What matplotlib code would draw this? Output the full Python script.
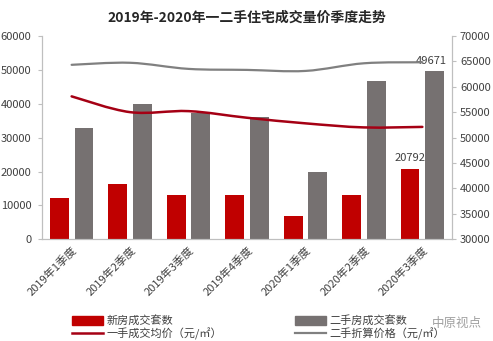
import matplotlib.pyplot as plt
import numpy as np
from matplotlib.patches import Patch, PathPatch
from matplotlib.lines import Line2D
from matplotlib.path import Path

plt.rcParams['font.family'] = ['Noto Sans CJK SC', 'DejaVu Sans']

# data
quarters = ['2019年1季度', '2019年2季度', '2019年3季度', '2019年4季度',
            '2020年1季度', '2020年2季度', '2020年3季度']
new_sales = [12300, 16200, 13200, 13200, 6900, 13000, 20792]
second_sales = [32700, 40000, 37300, 36000, 20000, 46700, 49671]
new_price = [58100, 55000, 55200, 53900, 52800, 52000, 52100]
second_price = [64300, 64700, 63500, 63300, 63100, 64600, 64800]

red = '#C00000'
grey = '#767171'
line_red = '#A50014'
line_grey = '#808080'
axis_col = '#BFBFBF'
text_col = '#404040'


def smooth_path(xs, ys, t=1/6):
    # excel-like smoothed line: cubic bezier through the points
    xs = np.asarray(xs, float)
    ys = np.asarray(ys, float)
    verts = [(xs[0], ys[0])]
    codes = [Path.MOVETO]
    n = len(xs)
    for i in range(n - 1):
        p0 = i - 1 if i > 0 else i
        p3 = i + 2 if i + 2 < n else i + 1
        c1 = (xs[i] + (xs[i + 1] - xs[p0]) * t, ys[i] + (ys[i + 1] - ys[p0]) * t)
        c2 = (xs[i + 1] - (xs[p3] - xs[i]) * t, ys[i + 1] - (ys[p3] - ys[i]) * t)
        verts += [c1, c2, (xs[i + 1], ys[i + 1])]
        codes += [Path.CURVE4] * 3
    return Path(verts, codes)


fig = plt.figure(figsize=(4.93, 3.41), dpi=100)
ax = fig.add_axes([0.086, 0.298, 0.83, 0.597])
ax2 = ax.twinx()

x = np.arange(len(quarters))
w = 0.32
ax.bar(x - 0.21, new_sales, w, color=red, zorder=2)
ax.bar(x + 0.21, second_sales, w, color=grey, zorder=2)

ax2.add_patch(PathPatch(smooth_path(x, new_price), fill=False, ec=line_red,
                        lw=1.8, capstyle='round'))
ax2.add_patch(PathPatch(smooth_path(x, second_price), fill=False, ec=line_grey,
                        lw=1.6, capstyle='round'))

ax.set_xlim(-0.5, len(quarters) - 0.5)
ax.set_ylim(0, 60000)
ax.set_yticks(range(0, 60001, 10000))
ax2.set_ylim(30000, 70000)
ax2.set_yticks(range(30000, 70001, 5000))

ax.set_xticks(x)
ax.set_xticklabels(quarters, rotation=45, ha='right', rotation_mode='anchor',
                   fontsize=8, color=text_col)
ax.tick_params(axis='x', length=0, pad=4)
ax.tick_params(axis='y', labelsize=8, colors=axis_col, labelcolor=text_col,
               length=3, pad=5)
ax2.tick_params(axis='y', labelsize=8, colors=axis_col, labelcolor=text_col,
                length=3, pad=3)

for a in (ax, ax2):
    a.spines['top'].set_visible(False)
    for s in ('left', 'right', 'bottom'):
        a.spines[s].set_color(axis_col)
        a.spines[s].set_linewidth(0.8)

# value labels on last quarter
ax.text(x[-1] - 0.21, new_sales[-1] + 1800, f'{new_sales[-1]}', ha='center',
        va='bottom', fontsize=8, color=text_col)
ax.text(x[-1] + 0.15, second_sales[-1] + 1500, f'{second_sales[-1]}', ha='center',
        va='bottom', fontsize=8, color=text_col)

fig.suptitle('2019年-2020年一二手住宅成交量价季度走势', fontsize=10,
             fontweight='bold', color='#262626', y=0.97)

handles = [Patch(color=red), Line2D([], [], color=line_red, lw=1.8),
           Patch(color=grey), Line2D([], [], color=line_grey, lw=1.6)]
labels = ['新房成交套数', '一手成交均价（元/㎡）', '二手房成交套数', '二手折算价格（元/㎡）']
fig.legend(handles, labels, ncol=2, loc='lower left', bbox_to_anchor=(0.125, -0.025),
           frameon=False, fontsize=8, handlelength=2.8, handleheight=0.8,
           labelspacing=0.1, columnspacing=6.6, handletextpad=0.3,
           labelcolor=text_col)

fig.text(0.875, 0.04, '中原视点', fontsize=9, color='#A0A0A0')

fig.savefig('out.png', dpi=100)
